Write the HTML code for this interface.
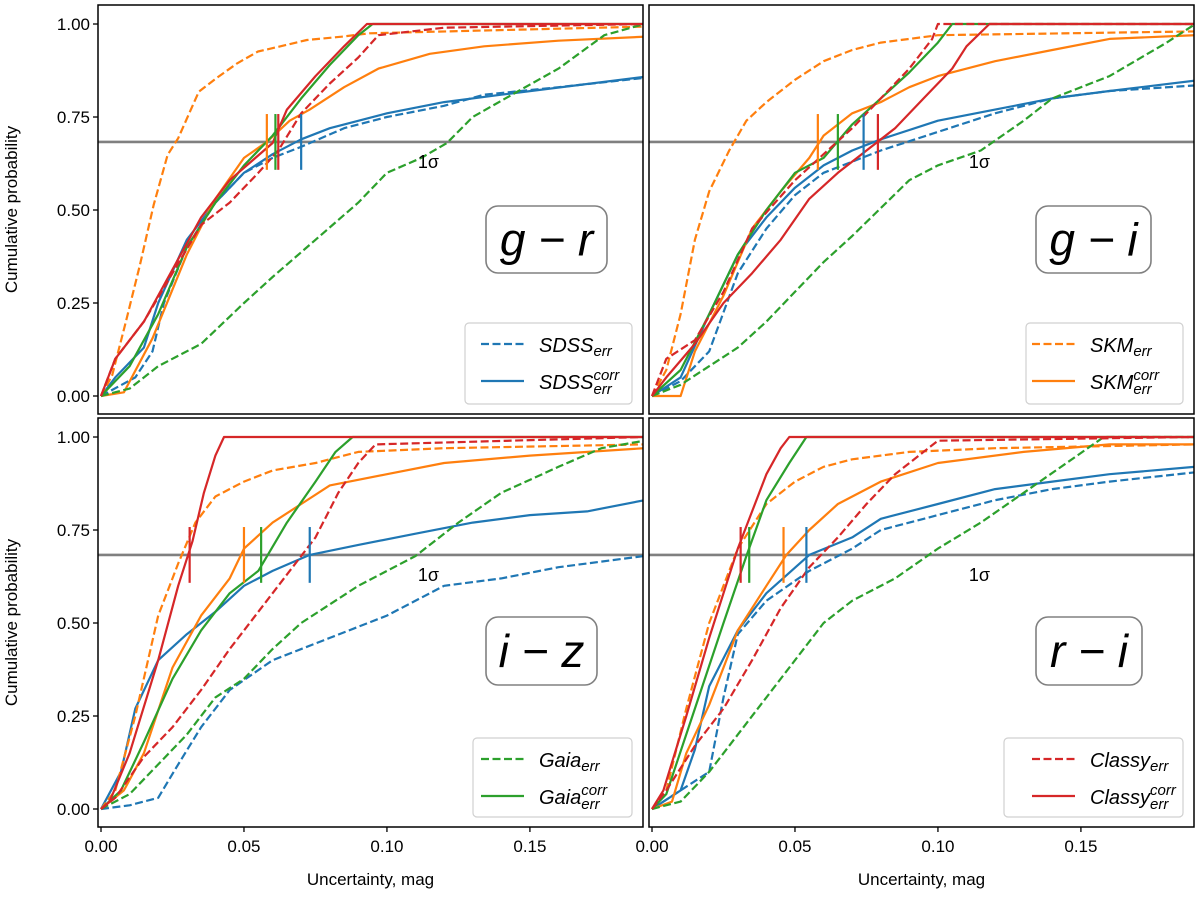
<!DOCTYPE html>
<html><head><meta charset="utf-8"><style>
html,body{margin:0;padding:0;background:#fff;}
svg{display:block;font-family:"Liberation Sans","DejaVu Sans",sans-serif;}
</style></head><body>
<svg id="fig" width="1200" height="899" viewBox="0 0 1200 899" xmlns="http://www.w3.org/2000/svg"></svg>
<script>
// ---- data (x = uncertainty mag, p = cumulative probability) ----
const xTicks = [0, 0.05, 0.10, 0.15];
const xTickLabels = ["0.00","0.05","0.10","0.15"];
const yTicks = [0, 0.25, 0.5, 0.75, 1.0];
const yTickLabels = ["0.00","0.25","0.50","0.75","1.00"];
const sigmaLevel = 0.683;
const panelNames = ["g − r","g − i","i − z","r − i"];

// g-r
const grSdssErr = [[0,0],[0.012,0.05],[0.018,0.12],[0.022,0.25],[0.03,0.4],[0.04,0.52],[0.05,0.6],[0.06,0.64],[0.07,0.67],[0.085,0.72],[0.1,0.75],[0.12,0.78],[0.134,0.81],[0.16,0.83],[0.19,0.855]];
const grSdssCorr = [[0,0],[0.005,0.05],[0.015,0.13],[0.02,0.25],[0.03,0.42],[0.04,0.52],[0.05,0.6],[0.06,0.65],[0.07,0.69],[0.08,0.72],[0.1,0.76],[0.12,0.79],[0.14,0.81],[0.19,0.858]];
const grSkmErr = [[0,0],[0.0039,0.056],[0.0087,0.2],[0.0136,0.352],[0.0184,0.513],[0.0233,0.648],[0.027,0.693],[0.0342,0.818],[0.0403,0.854],[0.0476,0.894],[0.0549,0.926],[0.0622,0.939],[0.072,0.957],[0.0841,0.966],[0.0938,0.975],[0.19,0.993]];
const grSkmCorr = [[0,0],[0.008,0.01],[0.018,0.155],[0.03,0.38],[0.04,0.53],[0.05,0.64],[0.058,0.683],[0.066,0.74],[0.073,0.77],[0.085,0.83],[0.097,0.88],[0.115,0.92],[0.134,0.94],[0.16,0.955],[0.19,0.966]];
const grGaiaErr = [[0,0],[0.01,0.02],[0.02,0.08],[0.035,0.14],[0.05,0.25],[0.06,0.32],[0.075,0.42],[0.09,0.52],[0.1,0.6],[0.112,0.64],[0.121,0.68],[0.13,0.75],[0.146,0.82],[0.16,0.88],[0.176,0.97],[0.19,1.0]];
const grGaiaCorr = [[0,0],[0.01,0.08],[0.02,0.22],[0.03,0.4],[0.04,0.52],[0.05,0.62],[0.06,0.7],[0.07,0.8],[0.08,0.89],[0.09,0.97],[0.095,1.0],[0.19,1.0]];
const grClassyErr = [[0,0],[0.005,0.1],[0.015,0.2],[0.025,0.33],[0.035,0.46],[0.045,0.52],[0.055,0.6],[0.062,0.66],[0.07,0.76],[0.08,0.84],[0.09,0.91],[0.097,0.97],[0.12,0.99],[0.19,1.0]];
const grClassyCorr = [[0,0],[0.005,0.1],[0.015,0.2],[0.025,0.34],[0.035,0.48],[0.045,0.58],[0.06,0.68],[0.065,0.77],[0.075,0.86],[0.085,0.94],[0.093,1.0],[0.19,1.0]];
const grMarkers = [0.070, 0.058, 0.061, 0.062];

// g-i
const giSdssErr = [[0,0],[0.01,0.04],[0.02,0.12],[0.03,0.33],[0.04,0.45],[0.05,0.54],[0.06,0.6],[0.08,0.66],[0.1,0.71],[0.12,0.76],[0.14,0.8],[0.16,0.82],[0.19,0.835]];
const giSdssCorr = [[0,0],[0.01,0.05],[0.02,0.22],[0.03,0.38],[0.04,0.48],[0.05,0.56],[0.06,0.62],[0.07,0.66],[0.08,0.69],[0.1,0.74],[0.12,0.77],[0.14,0.8],[0.16,0.82],[0.19,0.848]];
const giSkmErr = [[0,0],[0.005,0.07],[0.01,0.22],[0.015,0.42],[0.02,0.55],[0.027,0.66],[0.033,0.74],[0.04,0.79],[0.05,0.85],[0.06,0.9],[0.07,0.93],[0.08,0.95],[0.1,0.97],[0.19,0.98]];
const giSkmCorr = [[0,0],[0.01,0.0],[0.015,0.12],[0.025,0.27],[0.035,0.45],[0.045,0.55],[0.055,0.64],[0.06,0.7],[0.07,0.76],[0.08,0.79],[0.09,0.83],[0.1,0.86],[0.12,0.9],[0.14,0.93],[0.16,0.96],[0.19,0.97]];
const giGaiaErr = [[0,0],[0.01,0.03],[0.03,0.13],[0.04,0.2],[0.05,0.28],[0.06,0.36],[0.07,0.43],[0.09,0.58],[0.1,0.62],[0.115,0.66],[0.13,0.74],[0.14,0.8],[0.16,0.86],[0.18,0.95],[0.19,1.0]];
const giGaiaCorr = [[0,0],[0.01,0.07],[0.02,0.22],[0.03,0.38],[0.04,0.5],[0.05,0.6],[0.06,0.64],[0.07,0.73],[0.08,0.8],[0.09,0.87],[0.1,0.95],[0.105,1.0],[0.19,1.0]];
const giClassyErr = [[0,0],[0.005,0.1],[0.015,0.15],[0.025,0.28],[0.035,0.45],[0.05,0.58],[0.06,0.65],[0.07,0.72],[0.08,0.8],[0.09,0.88],[0.098,0.96],[0.1,1.0],[0.19,1.0]];
const giClassyCorr = [[0,0],[0.005,0.05],[0.015,0.14],[0.025,0.25],[0.035,0.33],[0.045,0.42],[0.055,0.53],[0.065,0.6],[0.075,0.66],[0.085,0.72],[0.095,0.8],[0.105,0.88],[0.11,0.94],[0.118,1.0],[0.19,1.0]];
const giMarkers = [0.074, 0.058, 0.065, 0.079];

// i-z
const izSdssErr = [[0,0],[0.01,0.01],[0.02,0.03],[0.027,0.12],[0.035,0.22],[0.045,0.32],[0.06,0.4],[0.08,0.46],[0.1,0.52],[0.12,0.6],[0.14,0.62],[0.16,0.65],[0.19,0.68]];
const izSdssCorr = [[0,0],[0.007,0.1],[0.012,0.27],[0.02,0.4],[0.03,0.47],[0.04,0.53],[0.05,0.6],[0.06,0.64],[0.073,0.683],[0.09,0.71],[0.11,0.74],[0.13,0.77],[0.15,0.79],[0.17,0.8],[0.19,0.83]];
const izSkmErr = [[0,0],[0.005,0.05],[0.012,0.25],[0.02,0.52],[0.027,0.66],[0.033,0.77],[0.04,0.84],[0.05,0.88],[0.06,0.91],[0.075,0.93],[0.09,0.96],[0.12,0.97],[0.19,0.98]];
const izSkmCorr = [[0,0],[0.008,0.05],[0.015,0.15],[0.025,0.38],[0.035,0.52],[0.045,0.62],[0.05,0.7],[0.06,0.77],[0.07,0.82],[0.08,0.87],[0.1,0.9],[0.12,0.93],[0.15,0.95],[0.19,0.97]];
const izGaiaErr = [[0,0],[0.01,0.04],[0.02,0.12],[0.03,0.2],[0.04,0.3],[0.05,0.35],[0.06,0.43],[0.07,0.5],[0.09,0.6],[0.11,0.68],[0.125,0.77],[0.14,0.85],[0.16,0.92],[0.175,0.97],[0.19,0.99]];
const izGaiaCorr = [[0,0],[0.007,0.05],[0.015,0.18],[0.025,0.35],[0.035,0.48],[0.045,0.58],[0.055,0.64],[0.065,0.77],[0.075,0.88],[0.082,0.96],[0.088,1.0],[0.19,1.0]];
const izClassyErr = [[0,0],[0.005,0.03],[0.015,0.14],[0.025,0.22],[0.035,0.32],[0.045,0.43],[0.055,0.53],[0.065,0.63],[0.075,0.73],[0.083,0.85],[0.09,0.93],[0.096,0.98],[0.19,1.0]];
const izClassyCorr = [[0,0],[0.003,0.02],[0.01,0.15],[0.02,0.4],[0.027,0.6],[0.032,0.72],[0.036,0.85],[0.04,0.95],[0.043,1.0],[0.19,1.0]];
const izMarkers = [0.073, 0.050, 0.056, 0.031];

// r-i
const riSdssErr = [[0,0],[0.01,0.05],[0.02,0.1],[0.025,0.3],[0.03,0.47],[0.04,0.56],[0.055,0.64],[0.07,0.7],[0.08,0.75],[0.1,0.79],[0.12,0.83],[0.14,0.86],[0.16,0.88],[0.19,0.905]];
const riSdssCorr = [[0,0],[0.01,0.05],[0.015,0.16],[0.02,0.33],[0.03,0.48],[0.04,0.58],[0.055,0.683],[0.07,0.73],[0.08,0.78],[0.1,0.82],[0.12,0.86],[0.14,0.88],[0.16,0.9],[0.19,0.92]];
const riSkmErr = [[0,0],[0.005,0.05],[0.012,0.27],[0.02,0.5],[0.03,0.7],[0.04,0.82],[0.05,0.88],[0.06,0.92],[0.07,0.94],[0.09,0.96],[0.12,0.97],[0.19,0.98]];
const riSkmCorr = [[0,0],[0.007,0.02],[0.012,0.15],[0.02,0.28],[0.03,0.48],[0.04,0.6],[0.047,0.683],[0.055,0.75],[0.065,0.82],[0.08,0.88],[0.1,0.93],[0.13,0.96],[0.16,0.98],[0.19,0.98]];
const riGaiaErr = [[0,0],[0.01,0.02],[0.02,0.1],[0.03,0.2],[0.04,0.3],[0.05,0.4],[0.06,0.5],[0.07,0.56],[0.085,0.62],[0.1,0.7],[0.115,0.77],[0.13,0.85],[0.145,0.93],[0.158,1.0],[0.19,1.0]];
const riGaiaCorr = [[0,0],[0.005,0.04],[0.015,0.27],[0.025,0.5],[0.033,0.68],[0.04,0.83],[0.048,0.93],[0.054,1.0],[0.19,1.0]];
const riClassyErr = [[0,0],[0.005,0.05],[0.015,0.17],[0.025,0.27],[0.035,0.4],[0.045,0.54],[0.055,0.65],[0.065,0.73],[0.075,0.82],[0.085,0.9],[0.095,0.96],[0.1,0.99],[0.19,1.0]];
const riClassyCorr = [[0,0],[0.004,0.05],[0.012,0.25],[0.02,0.46],[0.03,0.7],[0.035,0.8],[0.04,0.9],[0.045,0.97],[0.048,1.0],[0.19,1.0]];
const riMarkers = [0.054, 0.046, 0.034, 0.031];

// ---- drawing ----
const svg = document.getElementById('fig');
const NS = 'http://www.w3.org/2000/svg';
const COLORS = ['#1f77b4','#ff7f0e','#2ca02c','#d62728'];
const XMIN = -0.00105, XMAX = 0.18955, YMIN = -0.0484, YMAX = 1.0511;
function mk(tag, attrs, parent){ const e=document.createElementNS(NS,tag); for(const k in attrs) e.setAttribute(k,attrs[k]); (parent||svg).appendChild(e); return e; }

const panels = [
  {x0:98, y0:5, key:'g-r', series:[grSdssErr,grSdssCorr,grSkmErr,grSkmCorr,grGaiaErr,grGaiaCorr,grClassyErr,grClassyCorr], markers:grMarkers, leftAxis:true, bottomAxis:false, legend:['SDSS',0], legBox:[465,323,167,81], lbl:[486,206,121,67]},
  {x0:649, y0:5, key:'g-i', series:[giSdssErr,giSdssCorr,giSkmErr,giSkmCorr,giGaiaErr,giGaiaCorr,giClassyErr,giClassyCorr], markers:giMarkers, leftAxis:false, bottomAxis:false, legend:['SKM',1], legBox:[1026,323,157,81], lbl:[1036,206,115,67]},
  {x0:98, y0:418, key:'i-z', series:[izSdssErr,izSdssCorr,izSkmErr,izSkmCorr,izGaiaErr,izGaiaCorr,izClassyErr,izClassyCorr], markers:izMarkers, leftAxis:true, bottomAxis:true, legend:['Gaia',2], legBox:[473,738,159,79], lbl:[486,617,111,68]},
  {x0:649, y0:418, key:'r-i', series:[riSdssErr,riSdssCorr,riSkmErr,riSkmCorr,riGaiaErr,riGaiaCorr,riClassyErr,riClassyCorr], markers:riMarkers, leftAxis:false, bottomAxis:true, legend:['Classy',3], legBox:[1004,738,179,79], lbl:[1036,617,106,68]}
];
const W = 545, H = 409;

panels.forEach((pn, i) => {
  const g = mk('g', {});
  
  
  const sx = x => pn.x0 + (x - XMIN) / (XMAX - XMIN) * W;
  const sy = p => pn.y0 + (YMAX - p) / (YMAX - YMIN) * H;
  const clipId = 'clip' + i;
  const cp = mk('clipPath', {id: clipId}, g);
  mk('rect', {x:pn.x0, y:pn.y0, width:W, height:H}, cp);
  const plot = mk('g', {'clip-path':'url(#'+clipId+')'}, g);

  const sl = mk('line', {x1:pn.x0, x2:pn.x0+W, y1:sy(sigmaLevel), y2:sy(sigmaLevel), stroke:'#808080', 'stroke-width':2.6}, plot);
  
  

  pn.series.forEach((s, k) => {
    const col = COLORS[Math.floor(k/2)];
    const dashed = (k % 2 === 0);
    const pts = s.map(d => sx(d[0]).toFixed(1) + ',' + sy(d[1]).toFixed(1)).join(' ');
    const pl = mk('polyline', {points:pts, fill:'none', stroke:col, 'stroke-width':2.2, 'stroke-linejoin':'round'}, plot);
    if (dashed) pl.setAttribute('stroke-dasharray', '8,3.5');
    
    
  });
  pn.markers.forEach((m, k) => {
    const ml = mk('line', {x1:sx(m), x2:sx(m), y1:sy(sigmaLevel+0.075), y2:sy(sigmaLevel-0.075), stroke:COLORS[k], 'stroke-width':2.2}, plot);
    
    
  });

  const st = mk('text', {x:sx(0.1145), y:sy(sigmaLevel)+26, 'font-size':18, 'text-anchor':'middle', fill:'#000'}, g);
  st.textContent = '1σ';
  
  

  const lb = pn.lbl;
  const lr = mk('rect', {x:lb[0], y:lb[1], width:lb[2], height:lb[3], rx:12, fill:'#fff', stroke:'#808080', 'stroke-width':1.6}, g);
  
  
  const lt = mk('text', {x:lb[0]+lb[2]/2, y:lb[1]+lb[3]/2+16, 'font-size':46, 'font-style':'italic', 'text-anchor':'middle', fill:'#000'}, g);
  lt.textContent = panelNames[i];
  
  

  const b = pn.legBox, nm = pn.legend[0], col = COLORS[pn.legend[1]];
  const lg = mk('g', {}, g);
  
  
  mk('rect', {x:b[0], y:b[1], width:b[2], height:b[3], rx:4, fill:'#fff', stroke:'#d0d0d0', 'stroke-width':1.2}, lg);
  const lx = b[0] + b[2] - 160;
  [0,1].forEach(r => {
    const yy = b[1] + 21 + r*37;
    const e = mk('line', {x1:lx+9, x2:lx+52, y1:yy, y2:yy, stroke:col, 'stroke-width':2.2}, lg);
    if (r===0) e.setAttribute('stroke-dasharray','8,3.5');
    
    
    const tx = lx + 67;
    const t = mk('text', {x:tx, y:yy+8, 'font-size':20, 'font-style':'italic', fill:'#000'}, lg);
    
    
    t.textContent = nm;
    const w = t.getComputedTextLength();
    if (r===0) {
      const s = mk('text', {x:tx+w, y:yy+12, 'font-size':15, 'font-style':'italic', fill:'#000'}, lg);
      s.textContent = 'err';
    } else {
      const s1 = mk('text', {x:tx+w, y:yy-1, 'font-size':15, 'font-style':'italic', fill:'#000'}, lg);
      s1.textContent = 'corr';
      const s2 = mk('text', {x:tx+w, y:yy+13, 'font-size':15, 'font-style':'italic', fill:'#000'}, lg);
      s2.textContent = 'err';
    }
  });

  const fr = mk('rect', {x:pn.x0, y:pn.y0, width:W, height:H, fill:'none', stroke:'#000', 'stroke-width':1.5}, g);
  
  

  if (pn.leftAxis) {
    yTicks.forEach((v, k) => {
      mk('line', {x1:pn.x0-5, x2:pn.x0, y1:sy(v), y2:sy(v), stroke:'#000', 'stroke-width':1.3}, g);
      const t = mk('text', {x:pn.x0-8, y:sy(v)+6, 'font-size':17, 'text-anchor':'end', fill:'#000'}, g);
      t.textContent = yTickLabels[k];
      
      
    });
    const cy = pn.y0 + H/2;
    const yt = mk('text', {x:17, y:cy, 'font-size':17, 'text-anchor':'middle', transform:'rotate(-90 17 '+cy+')', fill:'#000'}, g);
    yt.textContent = 'Cumulative probability';
    
    
  }
  if (pn.bottomAxis) {
    xTicks.forEach((v, k) => {
      mk('line', {x1:sx(v), x2:sx(v), y1:pn.y0+H, y2:pn.y0+H+5, stroke:'#000', 'stroke-width':1.3}, g);
      const t = mk('text', {x:sx(v), y:pn.y0+H+25, 'font-size':17, 'text-anchor':'middle', fill:'#000'}, g);
      t.textContent = xTickLabels[k];
      
      
    });
    const xt = mk('text', {x:pn.x0+W/2, y:pn.y0+H+58, 'font-size':17, 'text-anchor':'middle', fill:'#000'}, g);
    xt.textContent = 'Uncertainty, mag';
    
    
  }
});
</script>
</body></html>
